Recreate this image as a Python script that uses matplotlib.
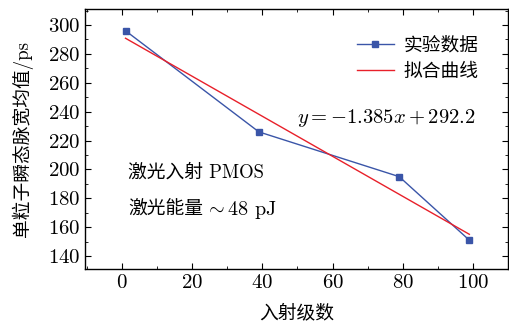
import matplotlib
matplotlib.use('Agg')
import matplotlib.pyplot as plt
from matplotlib.ticker import MultipleLocator
import numpy as np

# 数据
x_exp = [1, 39, 79, 99]
y_exp = [296, 226, 195, 151]
k, b = -1.385, 292.2
x_fit = np.array([1, 99])
y_fit = k * x_fit + b

plt.rcParams['font.family'] = ['cmr10', 'DejaVu Serif', 'Noto Sans CJK SC']
plt.rcParams['mathtext.fontset'] = 'cm'
plt.rcParams['axes.formatter.use_mathtext'] = True

fig = plt.figure(figsize=(5.1, 3.25), dpi=100)
ax = fig.add_axes([0.167, 0.172, 0.829, 0.8])

ax.plot(x_exp, y_exp, color='#3a55a8', lw=1.0, marker='s', ms=4.6, label='实验数据')
ax.plot(x_fit, y_fit, color='#e8202a', lw=1.0, label='拟合曲线')

ax.set_xlim(-10.5, 110)
ax.set_ylim(131, 311)
ax.xaxis.set_major_locator(MultipleLocator(20))
ax.xaxis.set_minor_locator(MultipleLocator(10))
ax.yaxis.set_major_locator(MultipleLocator(20))
ax.yaxis.set_minor_locator(MultipleLocator(10))
ax.tick_params(which='both', direction='in', top=True, right=True, labelsize=15)
ax.tick_params(which='major', length=4)
ax.tick_params(which='minor', length=2.5)
for s in ax.spines.values():
    s.set_linewidth(1.0)

ax.set_xlabel('入射级数', fontsize=13.5, labelpad=9)
ax.set_ylabel('单粒子瞬态脉宽均值/ps', fontsize=13.5, labelpad=11)

ax.text(50, 235.5, r'$y=-1.385x+292.2$', fontsize=14.8, va='center')
ax.text(1.7, 198, '激光入射 PMOS', fontsize=13.5, va='center')
t = ax.text(1.7, 172, '激光能量', fontsize=13.5, va='center')
ax.annotate(r'$\sim$48 pJ', xy=(1, 0.5), xycoords=t, xytext=(1.5, 0),
            textcoords='offset points', fontsize=14.5, va='center')

ax.legend(loc='upper right', bbox_to_anchor=(0.97, 0.96), frameon=False,
          fontsize=13.5, handlelength=2.0, handletextpad=0.5, labelspacing=0.45)

fig.savefig('out.png', dpi=100)
